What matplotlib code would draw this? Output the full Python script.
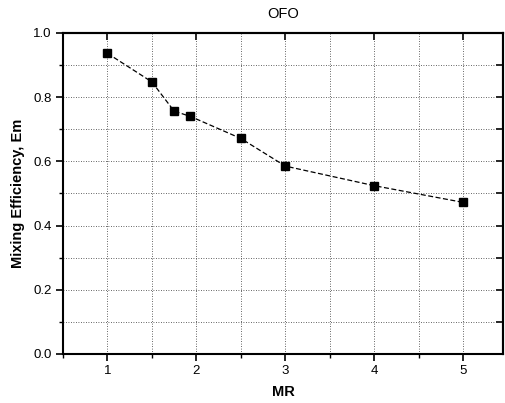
import matplotlib
matplotlib.use('Agg')
import matplotlib.pyplot as plt
from matplotlib.ticker import MultipleLocator

# 数据
mr = [1.0, 1.5, 1.75, 1.93, 2.5, 3.0, 4.0, 5.0]
em = [0.936, 0.847, 0.756, 0.740, 0.671, 0.585, 0.524, 0.472]
xticks = [1, 2, 3, 4, 5]
yticks = [0.0, 0.2, 0.4, 0.6, 0.8, 1.0]

plt.rcParams['font.family'] = ['Liberation Sans', 'DejaVu Sans']

fig = plt.figure(figsize=(5.06, 4.03), dpi=100)
ax = fig.add_axes([0.1245, 0.1216, 0.870, 0.797])

ax.plot(mr, em, color='black', linestyle=(0, (4, 2)), linewidth=0.9,
        marker='s', markersize=5.2, markerfacecolor='black', markeredgecolor='black')

ax.set_xlim(0.5, 5.45)
ax.set_ylim(0.0, 1.0)
ax.set_xticks(xticks)
ax.set_yticks(yticks)
ax.set_yticklabels(['%.1f' % v for v in yticks])
ax.xaxis.set_minor_locator(MultipleLocator(0.5))
ax.yaxis.set_minor_locator(MultipleLocator(0.1))

ax.grid(True, which='both', color='#333333', linestyle=(0, (1, 2)), linewidth=0.6)

ax.tick_params(which='major', direction='out', length=5, width=1.2, labelsize=9.5, pad=3,
               top=False, right=False)
ax.tick_params(which='minor', direction='out', length=3, width=1.0, top=False, right=False)

# 顶部和右侧的内向刻度
axt = ax.secondary_xaxis('top')
axt.set_xticks(xticks)
axt.tick_params(direction='in', length=5, width=1.2, labelbottom=False, labeltop=False)
axr = ax.secondary_yaxis('right')
axr.set_yticks([i / 10 for i in range(11)])
axr.tick_params(direction='in', length=5, width=1.2, labelleft=False, labelright=False)
for s in list(axt.spines.values()) + list(axr.spines.values()):
    s.set_linewidth(1.5)

for s in ax.spines.values():
    s.set_linewidth(1.5)

ax.set_title('OFO', fontsize=10.5, pad=11)
ax.set_xlabel('MR', fontsize=10.5, fontweight='bold', labelpad=6)
ax.set_ylabel('Mixing Efficiency, Em', fontsize=10.5, fontweight='bold', labelpad=6)

plt.savefig('out.png', dpi=100)
